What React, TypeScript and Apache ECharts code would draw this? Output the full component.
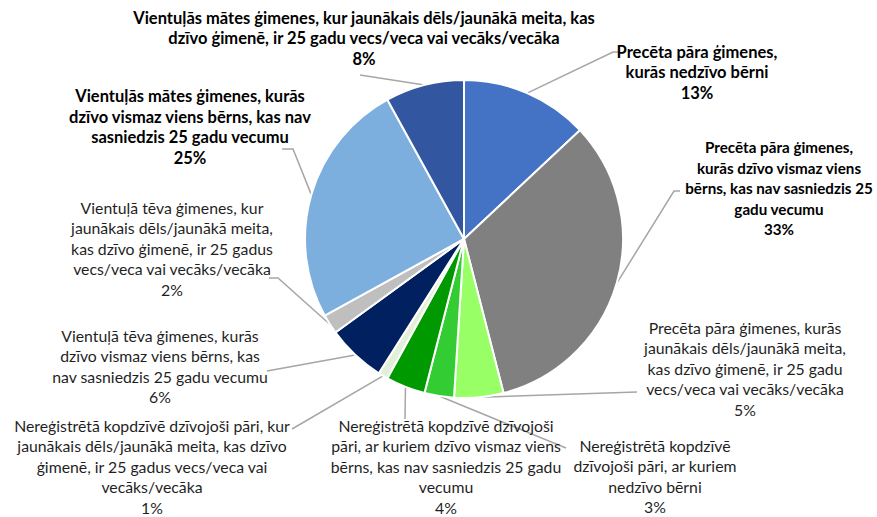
import React, { useEffect, useRef } from "react";
import * as echarts from "echarts";

const categories: string[] = [
  "Precēta pāra ģimenes,\nkurās nedzīvo bērni",
  "Precēta pāra ģimenes,\nkurās dzīvo vismaz viens\nbērns, kas nav sasniedzis 25\ngadu vecumu",
  "Precēta pāra ģimenes, kurās\njaunākais dēls/jaunākā meita,\nkas dzīvo ģimenē, ir 25 gadu\nvecs/veca vai vecāks/vecāka",
  "Nereģistrētā kopdzīvē\ndzīvojoši pāri, ar kuriem\nnedzīvo bērni",
  "Nereģistrētā kopdzīvē dzīvojoši\npāri, ar kuriem dzīvo vismaz viens\nbērns, kas nav sasniedzis 25 gadu\nvecumu",
  "Nereģistrētā kopdzīvē dzīvojoši pāri, kur\njaunākais dēls/jaunākā meita, kas dzīvo\nģimenē, ir 25 gadus vecs/veca vai\nvecāks/vecāka",
  "Vientuļā tēva ģimenes, kurās\ndzīvo vismaz viens bērns, kas\nnav sasniedzis 25 gadu vecumu",
  "Vientuļā tēva ģimenes, kur\njaunākais dēls/jaunākā meita,\nkas dzīvo ģimenē, ir 25 gadus\nvecs/veca vai vecāks/vecāka",
  "Vientuļās mātes ģimenes, kurās\ndzīvo vismaz viens bērns, kas nav\nsasniedzis 25 gadu vecumu",
  "Vientuļās mātes ģimenes, kur jaunākais dēls/jaunākā meita, kas\ndzīvo ģimenē, ir 25 gadu vecs/veca vai vecāks/vecāka",
];

const shares: number[] = [13, 33, 5, 3, 4, 1, 6, 2, 25, 8];

const boldLabel: boolean[] = [true, true, false, false, false, false, false, false, true, true];

const colors: string[] = [
  "#4472C4",
  "#808080",
  "#99FF66",
  "#33CC33",
  "#009900",
  "#E2F0D9",
  "#002060",
  "#BFBFBF",
  "#7DAFDE",
  "#3356A0",
];

// label placement (layout only)
type Placement = { x: number; y: number; size: number; end: number[]; tail?: number[] };
const placements: Placement[] = [
  { x: 697, y: 72, size: 16.5, end: [613, 52], tail: [619, 52] },
  { x: 779, y: 188, size: 15.2, end: [674, 191], tail: [680, 191] },
  { x: 745, y: 368, size: 15.8, end: [637, 392] },
  { x: 655, y: 476, size: 15.8, end: [566, 448] },
  { x: 446, y: 466, size: 15.8, end: [405, 419] },
  { x: 152, y: 466, size: 15.8, end: [292, 429] },
  { x: 160, y: 366, size: 15.8, end: [267, 371] },
  { x: 172, y: 248, size: 15.8, end: [278, 278], tail: [269, 278] },
  { x: 190, y: 127, size: 16.5, end: [293, 149], tail: [282, 149] },
  { x: 364, y: 38, size: 16.5, end: [360, 75] },
];

export default function App() {
  const ref = useRef<HTMLDivElement>(null);

  useEffect(() => {
    if (!ref.current) return;
    const chart = echarts.init(ref.current, null, { renderer: "svg" });
    const data = categories.map((name, i) => ({
      name,
      value: shares[i],
      itemStyle: { color: colors[i] },
      label: {
        fontWeight: boldLabel[i] ? "bold" : "normal",
        fontSize: placements[i].size,
        color: boldLabel[i] ? "#000000" : "#1f1f1f",
      },
    }));
    chart.setOption({
      animation: false,
      backgroundColor: "#ffffff",
      series: [
        {
          type: "pie",
          center: [464, 239],
          radius: 159,
          startAngle: 90,
          clockwise: true,
          avoidLabelOverlap: false,
          percentPrecision: 0,
          itemStyle: { borderColor: "#ffffff", borderWidth: 2 },
          label: {
            show: true,
            position: "outside",
            formatter: "{b}\n{d}%",
            fontFamily: "Lato",
            lineHeight: 20.5,
            align: "center",
          },
          labelLine: {
            show: true,
            length: 10,
            length2: 10,
            lineStyle: { color: "#A6A6A6", width: 1.5 },
          },
          labelLayout: (params: any) => {
            const p = placements[params.dataIndex];
            const pts: number[][] = [];
            const src = params.labelLinePoints;
            if (src && src[0]) pts.push([src[0][0], src[0][1]]);
            pts.push(p.end);
            if (p.tail) pts.push(p.tail);
            return {
              x: p.x,
              y: p.y,
              align: "center",
              verticalAlign: "middle",
              labelLinePoints: pts,
            };
          },
          data,
        },
      ],
    });
    return () => chart.dispose();
  }, []);

  return (
    <div
      ref={ref}
      style={{ position: "fixed", left: 0, top: 0, width: 877, height: 517 }}
    />
  );
}
